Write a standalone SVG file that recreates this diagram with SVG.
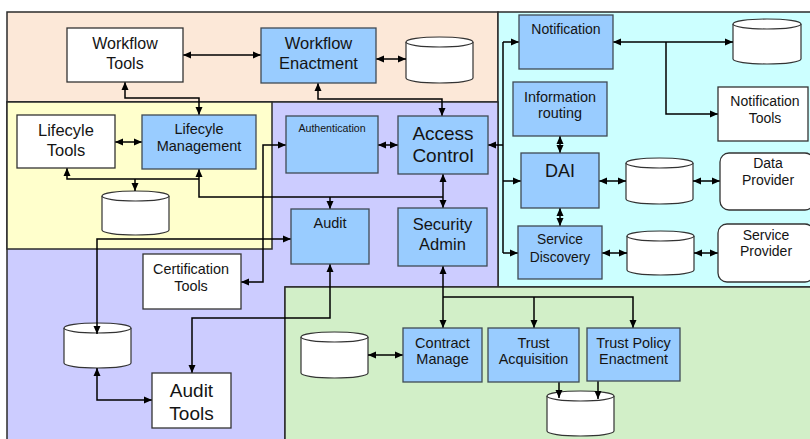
<svg xmlns="http://www.w3.org/2000/svg" width="810" height="439" viewBox="0 0 810 439">
  <defs>
    <marker id="ah" viewBox="0 0 8 8" refX="8" refY="4" markerWidth="8" markerHeight="8" markerUnits="userSpaceOnUse" orient="auto-start-reverse">
      <path d="M0,0.5 L8,4 L0,7.5 Z" fill="#000"/>
    </marker>
    <style>
      .zone { stroke: #2b2b2b; stroke-width: 1.5; }
      .blue { fill: #99ccff; stroke: #3f4a55; stroke-width: 1.3; }
      .white { fill: #ffffff; stroke: #333333; stroke-width: 1.3; }
      .cyl { fill: #ffffff; stroke: #333333; stroke-width: 1.2; }
      .t { font-family: "Liberation Sans", Arial, sans-serif; fill: #141414; text-anchor: middle; }
      .wire { fill: none; stroke: #000; stroke-width: 1.5; }
      .both { marker-start: url(#ah); marker-end: url(#ah); }
      .end { marker-end: url(#ah); }
      .start { marker-start: url(#ah); }
    </style>
  </defs>

  <rect width="810" height="439" fill="#ffffff"/>

  <!-- zones -->
  <g id="zones">
    <rect class="zone" x="7" y="12" width="491" height="90" fill="#fce8d8"/>
    <rect class="zone" x="498" y="12" width="314" height="275" fill="#ccffff"/>
    <path class="zone" d="M7 102 H498 V287 H285 V441 H7 Z" fill="#ccccff"/>
    <rect class="zone" x="7" y="102" width="265" height="147" fill="#ffffcc"/>
    <rect class="zone" x="285" y="287" width="527" height="154" fill="#d2efc8"/>
  </g>

  <!-- storage cylinders -->
  <g id="stores">
    <g id="store-workflow">
      <path class="cyl" d="M406 42 A33.5 5 0 0 1 473 42 V78 A33.5 5 0 0 1 406 78 Z"/>
      <path class="cyl" fill="none" d="M406 42 A33.5 5 0 0 0 473 42"/>
    </g>
    <g id="store-notification">
      <path class="cyl" d="M733 24 A34 5 0 0 1 801 24 V59 A34 5 0 0 1 733 59 Z"/>
      <path class="cyl" fill="none" d="M733 24 A34 5 0 0 0 801 24"/>
    </g>
    <g id="store-lifecycle">
      <path class="cyl" d="M102 196 A33.5 5 0 0 1 169 196 V230 A33.5 5 0 0 1 102 230 Z"/>
      <path class="cyl" fill="none" d="M102 196 A33.5 5 0 0 0 169 196"/>
    </g>
    <g id="store-dai">
      <path class="cyl" d="M626 163 A33.5 5 0 0 1 693 163 V199 A33.5 5 0 0 1 626 199 Z"/>
      <path class="cyl" fill="none" d="M626 163 A33.5 5 0 0 0 693 163"/>
    </g>
    <g id="store-discovery">
      <path class="cyl" d="M627 236 A33.5 5 0 0 1 694 236 V270 A33.5 5 0 0 1 627 270 Z"/>
      <path class="cyl" fill="none" d="M627 236 A33.5 5 0 0 0 694 236"/>
    </g>
    <g id="store-audit">
      <path class="cyl" d="M64 328 A33.5 5 0 0 1 131 328 V363 A33.5 5 0 0 1 64 363 Z"/>
      <path class="cyl" fill="none" d="M64 328 A33.5 5 0 0 0 131 328"/>
    </g>
    <g id="store-contract">
      <path class="cyl" d="M301 337 A33.5 5 0 0 1 368 337 V373 A33.5 5 0 0 1 301 373 Z"/>
      <path class="cyl" fill="none" d="M301 337 A33.5 5 0 0 0 368 337"/>
    </g>
    <g id="store-trust">
      <path class="cyl" d="M547 396 A33.5 5 0 0 1 614 396 V431 A33.5 5 0 0 1 547 431 Z"/>
      <path class="cyl" fill="none" d="M547 396 A33.5 5 0 0 0 614 396"/>
    </g>
  </g>

  <!-- connectors -->
  <g id="connectors">
    <path class="wire both" d="M183 55 H261"/>
    <path class="wire both" d="M376 59 H406"/>
    <path class="wire both" d="M125 82 V98 H199 V115"/>
    <path class="wire both" d="M318 83 V99 H442 V116"/>
    <path class="wire both" d="M115 142 H142"/>
    <path class="wire start" d="M67 168 V179 H199"/>
    <path class="wire start" d="M199 169 V197 H443"/>
    <path class="wire end" d="M135 179 V191"/>
    <path class="wire both" d="M443 174 V208"/>
    <path class="wire end" d="M330 197 V209"/>
    <path class="wire both" d="M378 145 H398"/>
    <path class="wire both" d="M286 145 H263 V282 H241"/>
    <path class="wire start" d="M488 145 H503"/>
    <path class="wire" d="M503 42 V253"/>
    <path class="wire end" d="M503 42 H519"/>
    <path class="wire end" d="M503 181 H521"/>
    <path class="wire end" d="M503 253 H518"/>
    <path class="wire both" d="M613 42 H733"/>
    <path class="wire end" d="M666 42 V114 H718"/>
    <path class="wire both" d="M560 136 V153"/>
    <path class="wire both" d="M560 208 V226"/>
    <path class="wire both" d="M599 181 H626"/>
    <path class="wire both" d="M693 181 H720"/>
    <path class="wire both" d="M602 253 H627"/>
    <path class="wire both" d="M694 253 H718"/>
    <path class="wire both" d="M291 239 H97 V334"/>
    <path class="wire both" d="M97 368 V400 H152"/>
    <path class="wire both" d="M330 264 V318 H192 V373"/>
    <path class="wire both" d="M443 266 V328"/>
    <path class="wire end" d="M443 297 H633 V328"/>
    <path class="wire end" d="M534 297 V328"/>
    <path class="wire both" d="M368 355 H403"/>
    <path class="wire end" d="M559 382 V398"/>
    <path class="wire end" d="M598 381 V399"/>
  </g>

  <!-- nodes -->
  <g id="workflow-tools">
    <rect class="white" x="67" y="28" width="116" height="54"/>
    <text class="t" x="125" y="49" font-size="16">Workflow</text>
    <text class="t" x="125" y="69" font-size="16">Tools</text>
  </g>
  <g id="workflow-enactment">
    <rect class="blue" x="261" y="28" width="115" height="55"/>
    <text class="t" x="318.5" y="49" font-size="16.5">Workflow</text>
    <text class="t" x="318.5" y="69" font-size="16.5">Enactment</text>
  </g>
  <g id="lifecycle-tools">
    <rect class="white" x="17" y="115" width="98" height="53"/>
    <text class="t" x="66" y="136" font-size="16.5">Lifecyle</text>
    <text class="t" x="66" y="156" font-size="16.5">Tools</text>
  </g>
  <g id="lifecycle-management">
    <rect class="blue" x="142" y="115" width="114" height="54"/>
    <text class="t" x="199" y="134" font-size="14.5">Lifecyle</text>
    <text class="t" x="199" y="151" font-size="14.5">Management</text>
  </g>
  <g id="authentication">
    <rect class="blue" x="286" y="116" width="92" height="57"/>
    <text class="t" x="332" y="132" font-size="10.6">Authentication</text>
  </g>
  <g id="access-control">
    <rect class="blue" x="398" y="116" width="90" height="58" stroke="#111" stroke-width="3"/>
    <text class="t" x="443" y="140" font-size="19">Access</text>
    <text class="t" x="443" y="162" font-size="19">Control</text>
  </g>
  <g id="notification">
    <rect class="blue" x="519" y="15" width="94" height="54"/>
    <text class="t" x="566" y="34" font-size="14">Notification</text>
  </g>
  <g id="notification-tools">
    <rect class="white" x="718" y="87" width="90" height="54"/>
    <text class="t" x="765" y="106" font-size="14">Notification</text>
    <text class="t" x="765" y="123" font-size="14">Tools</text>
  </g>
  <g id="information-routing">
    <rect class="blue" x="513" y="82" width="94" height="54"/>
    <text class="t" x="560" y="102" font-size="14.4">Information</text>
    <text class="t" x="560" y="118" font-size="14.4">routing</text>
  </g>
  <g id="dai">
    <rect class="blue" x="521" y="153" width="78" height="55"/>
    <text class="t" x="560" y="177" font-size="18">DAI</text>
  </g>
  <g id="service-discovery">
    <rect class="blue" x="518" y="226" width="84" height="53"/>
    <text class="t" x="560" y="244" font-size="13.8">Service</text>
    <text class="t" x="560" y="262" font-size="13.8">Discovery</text>
  </g>
  <g id="data-provider">
    <rect class="white" x="720" y="153" width="94" height="57" rx="9"/>
    <text class="t" x="768" y="168" font-size="14">Data</text>
    <text class="t" x="768" y="185" font-size="14">Provider</text>
  </g>
  <g id="service-provider">
    <rect class="white" x="718" y="224" width="96" height="58" rx="9"/>
    <text class="t" x="766" y="240" font-size="14">Service</text>
    <text class="t" x="766" y="256" font-size="14">Provider</text>
  </g>
  <g id="audit">
    <rect class="blue" x="291" y="209" width="78" height="55"/>
    <text class="t" x="330" y="228" font-size="14.5">Audit</text>
  </g>
  <g id="security-admin">
    <rect class="blue" x="398" y="208" width="89" height="58"/>
    <text class="t" x="442.5" y="230" font-size="16.5">Security</text>
    <text class="t" x="442.5" y="250" font-size="16.5">Admin</text>
  </g>
  <g id="certification-tools">
    <rect class="white" x="143" y="254" width="98" height="55"/>
    <text class="t" x="191" y="274" font-size="14.4">Certification</text>
    <text class="t" x="191" y="291" font-size="14.4">Tools</text>
  </g>
  <g id="audit-tools">
    <rect class="white" x="152" y="373" width="79" height="55"/>
    <text class="t" x="191.5" y="397" font-size="19">Audit</text>
    <text class="t" x="191.5" y="420" font-size="19">Tools</text>
  </g>
  <g id="contract-manage">
    <rect class="blue" x="403" y="328" width="79" height="54"/>
    <text class="t" x="442.5" y="348" font-size="14.5">Contract</text>
    <text class="t" x="442.5" y="364" font-size="14.5">Manage</text>
  </g>
  <g id="trust-acquisition">
    <rect class="blue" x="488" y="328" width="91" height="54"/>
    <text class="t" x="533.5" y="348" font-size="14.4">Trust</text>
    <text class="t" x="533.5" y="364" font-size="14.4">Acquisition</text>
  </g>
  <g id="trust-policy-enactment">
    <rect class="blue" x="587" y="328" width="93" height="53"/>
    <text class="t" x="633.5" y="348" font-size="14.4">Trust Policy</text>
    <text class="t" x="633.5" y="364" font-size="14.4">Enactment</text>
  </g>
</svg>
